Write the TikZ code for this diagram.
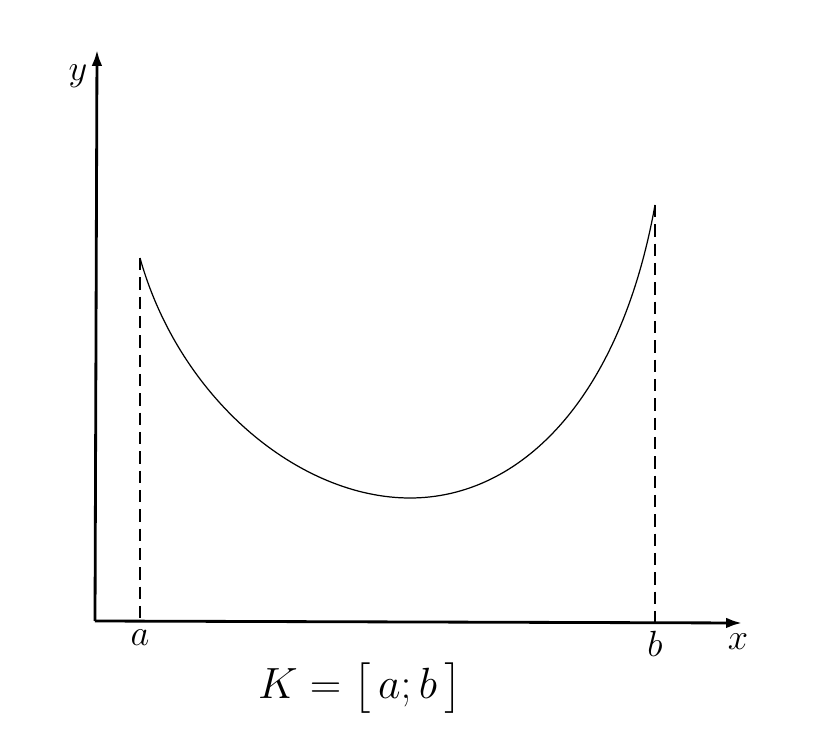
\documentclass[tikz,border=0pt]{standalone}
\usepackage{amsmath,amssymb}
\usepackage{tikz}
\usetikzlibrary{positioning,arrows.meta}

\begin{document}
\begin{tikzpicture}[x = 0.02cm, y = -0.02cm,
    axis/.style = { line width = 1.6pt, -{Latex[length = 9pt, width = 6pt]} },
    graph/.style = { line width = 0.7pt },
    guide/.style = { line width = 0.8pt, dashed, dash pattern = on 7pt off 4pt },
    lbl/.style = { font = \fontsize{20}{24}\selectfont, inner sep = 1pt }]
      \useasboundingbox (0,0) rectangle (825,736);
      \coordinate (O) at (95,621);
      \coordinate (xend) at (742,623);
      \coordinate (yend) at (97,50);
      \coordinate (atop) at (140,258);
      \coordinate (btop) at (655,205);
      \coordinate (afoot) at (140,621);
      \coordinate (bfoot) at (655,622);
      \coordinate (bottom) at (410,498);
      % axes
      \draw [axis] (O) -- (xend);
      \draw [axis] (O) -- (yend);
      \node [lbl] (ylbl) at (78,76) { $y$ };
      \node [lbl] (xlbl) at (738,642) { $x$ };
      % function on K
      \draw [graph] (atop) .. controls (180,400) and (300,498) .. (bottom)
                           .. controls (520,498) and (620,400) .. (btop);
      \draw [guide] (atop) -- (afoot);
      \draw [guide] (btop) -- (bfoot);
      \node [lbl, below = 4pt of afoot] (albl) { $a$ };
      \node [lbl, below = 4pt of bfoot] (blbl) { $b$ };
      \node [lbl, font = \fontsize{24}{28}\selectfont] (K) at (360,688) { $K = \bigl[\, a;b \,\bigr]$ };
    \end{tikzpicture}
\end{document}
